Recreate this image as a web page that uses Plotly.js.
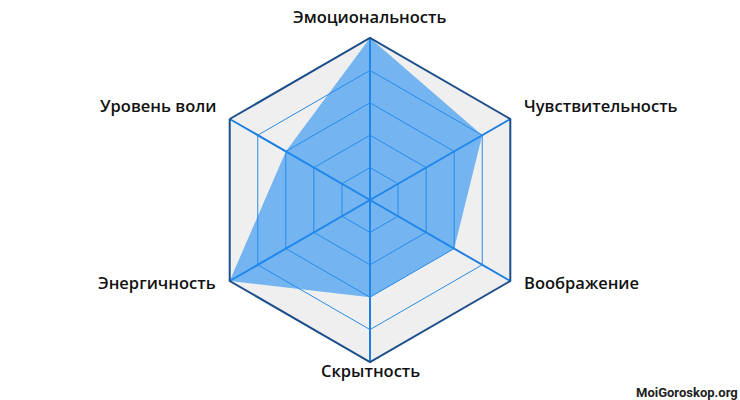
<!DOCTYPE html>
<html>
<head>
<meta charset="utf-8">
<script src="https://cdn.plot.ly/plotly-3.0.1.min.js"></script>
<style>
  html, body { margin: 0; padding: 0; background: white; }
  #chart { width: 740px; height: 400px; }
</style>
</head>
<body>
<div id="chart"></div>
<script>
// Radar chart - personality traits (scale 0..5)
const traits = ['Эмоциональность', 'Чувствительность', 'Воображение', 'Скрытность', 'Энергичность', 'Уровень воли'];
const scores = [5, 4, 3, 3, 5, 3];

// close the polygon
const theta = traits.concat([traits[0]]);
const r = scores.concat([scores[0]]);

const W = 740, H = 400;
const M = {l: 0, r: 0, t: 38, b: 38};
const plotW = W - M.l - M.r, plotH = H - M.t - M.b;
const R = Math.min(plotW, plotH) / 2;

// trait labels drawn as annotations so they can sit like the original
const labelAnns = traits.map((t, i) => {
    const a = (90 - 60 * i) * Math.PI / 180;
    const vx = Math.cos(a) * R, vy = Math.sin(a) * R;   // vertex offset from centre, px (y up)
    let dx = 0, dy = 0, xanchor = 'center';
    if (Math.abs(vx) < 1) {
        dy = vy > 0 ? 21 : -9;
    } else {
        dx = vx > 0 ? 12 : -12;
        dy = vy > 0 ? 14 : -1;
        xanchor = vx > 0 ? 'left' : 'right';
    }
    return {
        text: t,
        xref: 'paper', yref: 'paper',
        x: 0.5 + (vx + dx) / plotW,
        y: 0.5 + (vy + dy) / plotH,
        xanchor: xanchor, yanchor: 'middle',
        showarrow: false,
        font: {family: 'Open Sans, sans-serif', size: 16.5, color: '#111', weight: 600}
    };
});

const data = [{
    type: 'scatterpolar',
    r: r,
    theta: theta,
    mode: 'lines',
    fill: 'toself',
    fillcolor: 'rgba(33, 140, 240, 0.6)',
    line: {color: 'rgba(0,0,0,0)', width: 0},
    hoverinfo: 'skip'
}];

const layout = {
    width: W,
    height: H,
    showlegend: false,
    paper_bgcolor: 'white',
    font: {family: 'Open Sans, sans-serif', size: 16, color: '#111'},
    margin: M,
    polar: {
        gridshape: 'linear',
        bgcolor: '#efefef',
        domain: {x: [0, 1], y: [0, 1]},
        radialaxis: {
            range: [0, 5],
            dtick: 1,
            showticklabels: false,
            ticks: '',
            showline: false,
            gridcolor: '#2b8be6',
            gridwidth: 1,
            layer: 'above traces'
        },
        angularaxis: {
            rotation: 90,
            direction: 'clockwise',
            showline: true,
            linecolor: '#1d4f8c',
            linewidth: 2,
            gridcolor: '#1f7fe0',
            gridwidth: 2,
            ticks: '',
            showticklabels: false,
            layer: 'above traces'
        }
    },
    annotations: labelAnns.concat([{
        text: 'MoiGoroskop.org',
        xref: 'paper', yref: 'paper',
        x: 1, y: -0.0926,
        xanchor: 'right', yanchor: 'middle',
        showarrow: false,
        font: {family: 'Roboto, sans-serif', size: 13, color: '#222', weight: 'bold'}
    }])
};

Plotly.newPlot('chart', data, layout, {displayModeBar: false, staticPlot: true});
</script>
</body>
</html>
